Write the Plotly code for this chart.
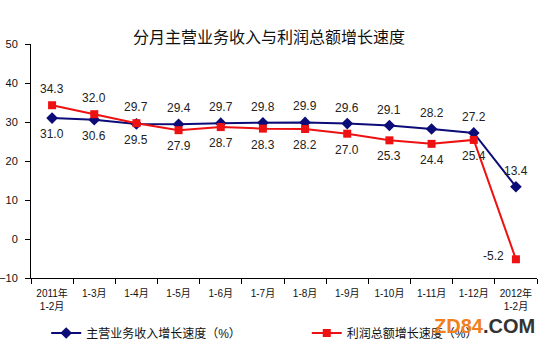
import plotly.graph_objects as go

categories = ["2011年<br>1-2月", "1-3月", "1-4月", "1-5月", "1-6月", "1-7月", "1-8月",
              "1-9月", "1-10月", "1-11月", "1-12月", "2012年<br>1-2月"]
revenue = [31.0, 30.6, 29.5, 29.4, 29.7, 29.8, 29.9, 29.6, 29.1, 28.2, 27.2, 13.4]
profit = [34.3, 32.0, 29.7, 27.9, 28.7, 28.3, 28.2, 27.0, 25.3, 24.4, 25.4, -5.2]
revenue_name = "主营业务收入增长速度（%）"
profit_name = "利润总额增长速度（%）"
title = "分月主营业务收入与利润总额增长速度"

# label placement: 1 above, -1 below, 0 left
revenue_pos = [-1, -1, -1, 1, 1, 1, 1, 1, 1, 1, 1, 1]
profit_pos = [1, 1, 1, -1, -1, -1, -1, -1, -1, -1, -1, 0]

FONT = "Liberation Sans, Arial, Noto Sans CJK SC"
BLUE = "#0c0c78"
RED = "#ee1111"

fig = go.Figure()
fig.add_trace(go.Scatter(x=categories, y=revenue, name=revenue_name, mode="lines+markers",
                         line=dict(color=BLUE, width=2), legend="legend",
                         marker=dict(symbol="diamond", size=9, color=BLUE)))
fig.add_trace(go.Scatter(x=categories, y=profit, name=profit_name, mode="lines+markers",
                         line=dict(color=RED, width=2), legend="legend2",
                         marker=dict(symbol="square", size=8, color=RED)))

annotations = []
for vals, pos in ((revenue, revenue_pos), (profit, profit_pos)):
    for c, v, p in zip(categories, vals, pos):
        if p == 0:
            annotations.append(dict(x=c, y=v, text=f"{v:.1f}", showarrow=False,
                                    xshift=-22, yshift=3, font=dict(size=12, color="#222")))
        else:
            annotations.append(dict(x=c, y=v, text=f"{v:.1f}", showarrow=False,
                                    yshift=16 * p, font=dict(size=12, color="#222")))

annotations.append(dict(xref="paper", yref="paper", x=0.47, y=1.0, yshift=22,
                        text=title, showarrow=False, font=dict(size=16, color="#111",
                        family="Noto Sans CJK SC")))
annotations.append(dict(xref="paper", yref="paper", x=1.0, y=0, yshift=-61, xanchor="right",
                        text="<span style='color:#f07f1c'>ZD84</span><span style='color:#333'>.COM</span>",
                        showarrow=False, font=dict(size=20, family="Liberation Sans", weight="bold")))

legend_common = dict(orientation="h", yanchor="middle", y=-0.235, xanchor="left",
                     font=dict(size=12), itemwidth=30, bgcolor="rgba(0,0,0,0)")

fig.update_layout(
    width=541, height=346,
    margin=dict(l=31, r=4, t=44, b=68, autoexpand=False),
    paper_bgcolor="white", plot_bgcolor="white",
    font=dict(family=FONT, size=11, color="#111"),
    showlegend=True,
    legend=dict(x=0.03, **legend_common),
    legend2=dict(x=0.545, **legend_common),
    annotations=annotations,
)
fig.update_xaxes(type="category", range=[-0.5, 11.5], showline=True, linecolor="black",
                 linewidth=1, ticks="outside", tickson="boundaries", ticklen=5,
                 tickcolor="black", showgrid=False, zeroline=False, tickangle=0,
                 tickfont=dict(size=10), ticklabelstandoff=6)
fig.update_yaxes(range=[-10, 50], dtick=10, showline=True, linecolor="black", linewidth=1,
                 ticks="outside", ticklen=5, tickcolor="black", showgrid=False,
                 zeroline=False, tickfont=dict(size=11), ticklabelstandoff=5)

fig.write_html("out.html")
